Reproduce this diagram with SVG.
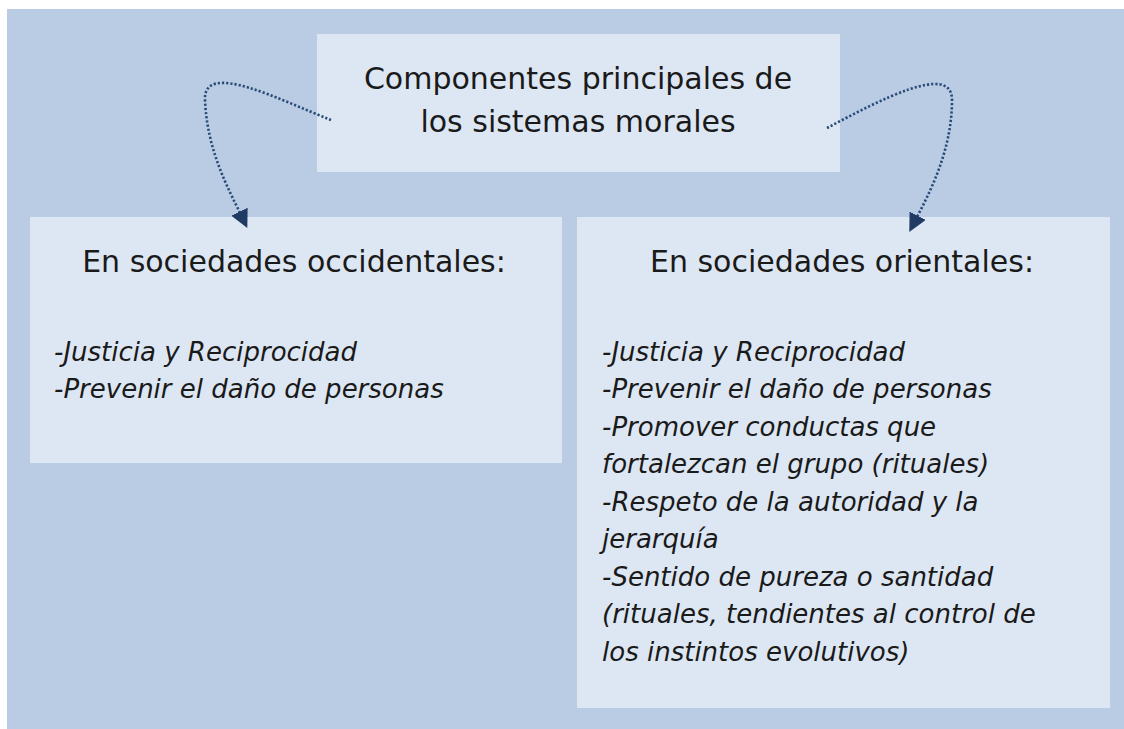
<svg xmlns="http://www.w3.org/2000/svg" width="1124" height="729" viewBox="0 0 1124 729">
<style>
.box{fill:#dde7f3;}
.title{font-family:"DejaVu Sans",sans-serif;font-size:30px;fill:#1a1a1a;text-anchor:middle;}
.item{font-family:"DejaVu Sans",sans-serif;font-size:26px;font-style:italic;fill:#1a1a1a;}
.conn{fill:none;stroke:#2a4a78;stroke-width:2.6;stroke-dasharray:2.2 2;}
</style>
<defs>
<marker id="arr" viewBox="0 0 10 10" refX="2" refY="5" markerWidth="7" markerHeight="7" orient="auto" markerUnits="strokeWidth">
<path d="M0,0 L10,5 L0,10 Z" fill="#1f3b63"/>
</marker>
</defs>
<rect x="0" y="0" width="1124" height="729" fill="#ffffff"/>
<rect x="7" y="9" width="1117" height="720" fill="#b9cce4"/>
<g id="top">
<rect class="box" x="317" y="34" width="523" height="138"/>
<text class="title" x="578" y="89">Componentes principales de</text>
<text class="title" x="578" y="132">los sistemas morales</text>
</g>
<g id="occidentales">
<rect class="box" x="30" y="217" width="532" height="246"/>
<text class="title" x="294" y="272">En sociedades occidentales:</text>
<text class="item" x="54" y="361">-Justicia y Reciprocidad</text>
<text class="item" x="54" y="398">-Prevenir el daño de personas</text>
</g>
<g id="orientales">
<rect class="box" x="577" y="217" width="533" height="491"/>
<text class="title" x="842" y="272">En sociedades orientales:</text>
<text class="item" x="602" y="361">-Justicia y Reciprocidad</text>
<text class="item" x="602" y="398">-Prevenir el daño de personas</text>
<text class="item" x="602" y="436">-Promover conductas que</text>
<text class="item" x="602" y="473">fortalezcan el grupo (rituales)</text>
<text class="item" x="602" y="511">-Respeto de la autoridad y la</text>
<text class="item" x="602" y="548">jerarquía</text>
<text class="item" x="602" y="586">-Sentido de pureza o santidad</text>
<text class="item" x="602" y="623">(rituales, tendientes al control de</text>
<text class="item" x="602" y="661">los instintos evolutivos)</text>
</g>
<g id="connectors">
<path class="conn" d="M331,120 C280,100 203,60 205,100 C207,150 228,188 241,215" marker-end="url(#arr)"/>
<path class="conn" d="M827,128 C880,100 952,62 952,100 C952,150 930,192 916,219" marker-end="url(#arr)"/>
</g>
</svg>
